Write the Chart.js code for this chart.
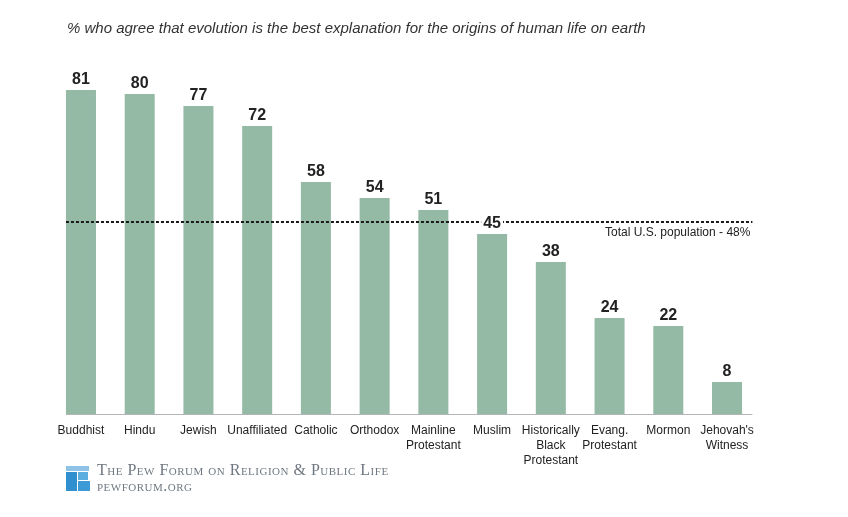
<!DOCTYPE html>
<html>
<head>
<meta charset="utf-8">
<script src="https://cdn.jsdelivr.net/npm/chart.js@4/dist/chart.umd.min.js"></script>
<style>
  body { margin: 0; background: #fff; }
  #wrap { position: relative; width: 848px; height: 517px; }
  #chart { position: absolute; left: 0; top: 0; }
  .title { position: absolute; left: 67px; top: 19px; font: italic 15px "Liberation Sans", Arial, sans-serif; color: #333; white-space: nowrap; }
  .footer { position: absolute; left: 97px; top: 462px; font-family: "Liberation Serif", serif; font-variant: small-caps; color: #6f7780; font-size: 16px; line-height: 16px; letter-spacing: 0.5px; white-space: nowrap; }
  .logo { position: absolute; left: 66px; top: 466px; width: 25px; height: 25px; }
  .logo div { position: absolute; }
</style>
</head>
<body>
<div id="wrap">
  <canvas id="chart" width="848" height="517"></canvas>
  <div class="title">% who agree that evolution is the best explanation for the origins of human life on earth</div>
  <div class="logo">
    <div style="left:0;top:0;width:23px;height:5px;background:#8cc3e6"></div>
    <div style="left:0;top:6px;width:11px;height:19px;background:#2f8fcf"></div>
    <div style="left:12px;top:6px;width:10px;height:8px;background:#5aaee0"></div>
    <div style="left:12px;top:15px;width:12px;height:10px;background:#3c9ad6"></div>
  </div>
  <div class="footer">The Pew Forum on Religion &amp; Public Life<br>pewforum.org</div>
</div>
<script>
// groups and % who agree
const groups = [
    'Buddhist', 'Hindu', 'Jewish', 'Unaffiliated', 'Catholic', 'Orthodox',
    ['Mainline', 'Protestant'], 'Muslim', ['Historically', 'Black', 'Protestant'],
    ['Evang.', 'Protestant'], 'Mormon', ["Jehovah's", 'Witness']
];
const agree = [81, 80, 77, 72, 58, 54, 51, 45, 38, 24, 22, 8];
const totalPop = 48;
const totalLabel = 'Total U.S. population - 48%';

const barColor = '#94b9a5';

// baseline + dotted reference line + value labels
const extras = {
    id: 'extras',
    afterDatasetsDraw(chart) {
        const ctx = chart.ctx;
        const meta = chart.getDatasetMeta(0);
        const area = chart.chartArea;
        const first = meta.data[0];
        const x0 = first.x - first.width / 2;
        const x1 = area.right - 4;

        ctx.save();
        // baseline
        ctx.strokeStyle = '#b5b5b5';
        ctx.lineWidth = 1;
        ctx.beginPath();
        ctx.moveTo(x0, area.bottom + 0.5);
        ctx.lineTo(x1, area.bottom + 0.5);
        ctx.stroke();

        // total population line
        const y = chart.scales.y.getPixelForValue(totalPop);
        ctx.strokeStyle = '#1a1a1a';
        ctx.lineWidth = 2;
        ctx.setLineDash([3, 2]);
        ctx.beginPath();
        ctx.moveTo(x0, y);
        ctx.lineTo(x1, y);
        ctx.stroke();
        ctx.setLineDash([]);

        ctx.fillStyle = '#222';
        ctx.font = '12px "Liberation Sans", Arial, sans-serif';
        ctx.textAlign = 'right';
        ctx.textBaseline = 'alphabetic';
        ctx.fillText(totalLabel, x1 - 2, y + 14);

        // value labels
        ctx.font = 'bold 16px "Liberation Sans", Arial, sans-serif';
        ctx.textAlign = 'center';
        meta.data.forEach((bar, i) => {
            ctx.fillStyle = '#fff';
            const w = ctx.measureText(agree[i]).width;
            ctx.fillRect(bar.x - w / 2 - 2, bar.y - 20, w + 4, 15);
            ctx.fillStyle = '#222';
            ctx.fillText(agree[i], bar.x, bar.y - 6);
        });
        ctx.restore();
    }
};

new Chart(document.getElementById('chart'), {
    type: 'bar',
    data: {
        labels: groups,
        datasets: [{
            data: agree,
            backgroundColor: barColor,
            barPercentage: 0.511,
            categoryPercentage: 1.0,
        }],
    },
    options: {
        responsive: false,
        animation: false,
        layout: { padding: { left: 51.6, right: 91.6, top: 14, bottom: 0 } },
        plugins: {
            legend: { display: false },
            tooltip: { enabled: false },
        },
        scales: {
            x: {
                grid: { display: false, drawTicks: false },
                border: { display: false },
                afterFit(scale) { scale.height = 103; },
                ticks: {
                    padding: 9,
                    maxRotation: 0,
                    autoSkip: false,
                    color: '#222',
                    font: { family: '"Liberation Sans", Arial, sans-serif', size: 12, lineHeight: 1.25 },
                },
            },
            y: {
                display: false,
                min: 0,
                max: 100,
            },
        },
    },
    plugins: [extras],
});
</script>
</body>
</html>
